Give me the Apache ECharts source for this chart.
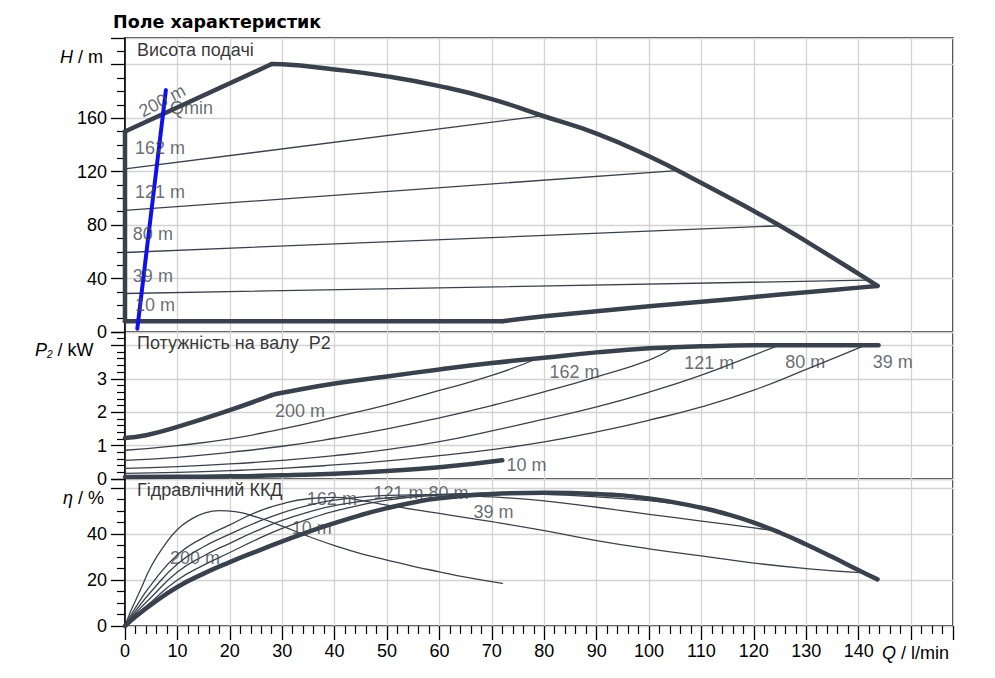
<!DOCTYPE html>
<html><head><meta charset="utf-8">
<script src="https://cdn.jsdelivr.net/npm/echarts@6/dist/echarts.min.js"></script>
<style>html,body{margin:0;padding:0;background:#fff}#c{width:995px;height:678px}</style>
</head><body><div id="c"></div>
<script>
// ---------------- data ----------------
const xTickLabels = [0,10,20,30,40,50,60,70,80,90,100,110,120,130,140];
const hTickLabels = [0,40,80,120,160];
const pTickLabels = [0,1,2,3];
const etaTickLabels = [0,20,40];

// Head H / m  [Q l/min, H m]
const h200 = [[0,150],[28,200.5]];
const hMax = [[28,200.5],[30,200.3],[40,196.5],[50,191.3],[60,184],[70,174.3],[79.5,162],[90,148.5],[100,131.5],[110,111.5],[120,90.5],[125,79.5],[130,67.8],[140,43.5],[143.6,34.5]];
const hLeft = [[0,150],[0,8]];
const hMinFlat = [[0,8],[72,8]];
const hMin = [[72,8],[80,11.8],[90,15.5],[100,19.2],[110,22.6],[120,26.2],[130,29.8],[140,33.2],[143.6,34.5]];
const h162 = [[0,122],[79.5,161.8]];
const h121 = [[0,91],[105.3,120.8]];
const h80 = [[0,59.5],[125,79.5]];
const h39 = [[0,28.8],[141.5,38.8]];
const qMin = [[2.35,2.5],[7.8,181]];

// Power P2 / kW
const p200 = [[0,1.23],[4,1.31],[10,1.56],[20,2.06],[28,2.51]];
const pMax = [[28,2.51],[30,2.58],[40,2.86],[50,3.07],[60,3.28],[70,3.47],[80,3.63],[90,3.79],[100,3.91],[110,3.97],[120,4.0],[143.8,4.0]];
const p162 = [[0,0.86],[10,1.0],[20,1.2],[30,1.5],[40,1.85],[50,2.22],[60,2.65],[70,3.1],[78.6,3.6]];
const p121 = [[0,0.56],[10,0.65],[20,0.8],[30,0.98],[40,1.22],[50,1.5],[60,1.83],[70,2.2],[80,2.61],[90,3.06],[100,3.56],[104.6,3.93]];
const p80 = [[0,0.32],[10,0.37],[20,0.45],[30,0.56],[40,0.7],[50,0.88],[60,1.12],[70,1.44],[80,1.79],[90,2.16],[100,2.6],[110,3.11],[120,3.71],[124.4,3.98]];
const p39 = [[0,0.17],[10,0.2],[20,0.25],[30,0.32],[40,0.42],[50,0.54],[60,0.7],[70,0.88],[80,1.11],[90,1.41],[100,1.76],[110,2.16],[120,2.66],[130,3.28],[141.2,4.0]];
const p10 = [[0,0.06],[10,0.065],[20,0.08],[30,0.11],[40,0.16],[50,0.24],[60,0.35],[72,0.56]];

// Hydraulic efficiency eta / %
const eMax = [[0,0],[2,4],[5,9.3],[10,17],[15,22.8],[20,27.8],[25,32.4],[30,36.8],[35,41],[40,44.8],[45,48.3],[50,51.3],[55,53.8],[60,55.6],[70,57.5],[80,58],[90,57.5],[100,55.5],[110,51.5],[115,48.6],[120,45],[125,40.6],[130,35.5],[135,30],[140,24.3],[143.6,20.3]];
const e10 = [[0,0],[1,6],[2,11],[3,16],[5,26],[7.5,35],[10,42],[12.5,46.3],[15,49],[18,50.2],[21,49.8],[25,47.5],[30,43.5],[35,39],[40,35],[45,31.5],[50,28.7],[55,26],[60,23.6],[65,21.3],[72,18.6]];
const e39 = [[0,0],[2,8],[5,18],[10,31],[15,38.5],[20,44],[25,49.5],[30,53.2],[35,55.4],[40,56],[45,54.7],[50,52.6],[60,49],[70,45.4],[80,41.5],[90,37.2],[100,33.6],[110,30.5],[120,27.4],[130,25],[140.3,23.2]];
const e80 = [[0,0],[2,6.5],[5,15],[10,27],[15,34.5],[20,40],[25,45],[30,49.3],[35,52.5],[40,54.8],[50,56.9],[60,57.2],[70,56.2],[80,54.5],[90,51.7],[100,48.6],[110,45.7],[120,42.7],[123.3,41.7]];
const e121 = [[0,0],[2,5.5],[5,12.5],[10,23.5],[15,30.5],[20,36],[25,41.3],[30,46],[35,49.6],[40,52.4],[50,55.8],[60,57.3],[70,57.7],[80,57.3],[90,56.2],[100,54.6],[104.6,53.4]];
const e162 = [[0,0],[2,4.5],[5,10.5],[10,20],[15,26.5],[20,32],[25,37.5],[30,42.5],[35,46.5],[40,50],[50,54.8],[60,57],[70,57.9],[78.6,58]];

// curve labels [text, Q, value]
const hLabels = [['162 m',1.9,137.8],['121 m',1.9,104.8],['80 m',1.5,73.3],['39 m',1.5,41.8],['10 m',1.9,20],['Qmin',8.6,167.8]];
const hRotLabels = [['200 m',7.1,173]];
const pLabels = [['200 m',28.6,2.04],['162 m',81,3.21],['121 m',106.7,3.46],['80 m',126,3.51],['39 m',142.7,3.51],['10 m',72.8,0.43]];
const eLabels = [['162 m',34.7,55.5],['121 m',47.4,57.7],['80 m',57.9,57.7],['39 m',66.5,49.7],['10 m',31.8,42.5],['200 m',8.6,29.4]];
const panelTitles = [['Висота подачі',2.3,211.3,0],['Потужність на валу  P2',2.3,4.08,1],['Гідравлічний ККД',2.3,59,2]];

// ---------------- chart ----------------
const FONT = '"Liberation Sans", Arial, sans-serif';
const CURVE = '#39424c';
const LBL = '#40474f';
const GRIDC = '#d3d3d3';

const grids = [
  {left:125, width:828, top:38, height:294},
  {left:125, width:828, top:332, height:147},
  {left:125, width:828, top:479, height:147}
].map(g => Object.assign(g, {show:true, borderColor:'#000', borderWidth:1.5, backgroundColor:'transparent'}));

const xAxes = [0,1,2].map(i => ({
  type:'value', gridIndex:i, min:0, max:158, interval:10,
  axisLine:{show:false},
  axisTick:{show:i===2, length:14, lineStyle:{color:'#000', width:1.3}},
  minorTick:{show:i===2, splitNumber:5, length:8, lineStyle:{color:'#000', width:1.2}},
  axisLabel:{show:i===2, fontSize:18, color:'#000', margin:16, fontFamily:FONT,
    formatter: v => xTickLabels.includes(v) ? String(v) : ''},
  splitLine:{show:true, lineStyle:{color:GRIDC, width:1.3}},
  minorSplitLine:{show:false}
}));

function yAx(i, max, interval, minorSplit, labels) {
  return {
    type:'value', gridIndex:i, min:0, max:max, interval:interval,
    axisLine:{show:true, lineStyle:{color:'#000', width:1.5}},
    axisTick:{show:true, length:14, lineStyle:{color:'#000', width:1.3}},
    minorTick:{show:true, splitNumber:minorSplit, length:8, lineStyle:{color:'#000', width:1.2}},
    axisLabel:{fontSize:18, color:'#000', margin:18, fontFamily:FONT,
      formatter: v => labels.includes(v) ? String(v) : ''},
    splitLine:{show:true, lineStyle:{color:GRIDC, width:1.3}}
  };
}
const yAxes = [yAx(0,220,40,4,hTickLabels), yAx(1,4.4,1,5,pTickLabels), yAx(2,64,20,4,etaTickLabels)];

function line(gi, data, thick, smooth, color) {
  return {
    type:'line', xAxisIndex:gi, yAxisIndex:gi, data:data, showSymbol:false, symbol:'none',
    smooth: smooth ? 0.5 : false,
    lineStyle:{color: color || CURVE, width: thick ? 4.5 : 1.3, cap:'round', join:'round'},
    silent:true, animation:false, z: thick ? 3 : 2
  };
}
function labels(gi, arr, extra) {
  return {
    type:'scatter', xAxisIndex:gi, yAxisIndex:gi, symbolSize:0, silent:true, animation:false, z:6,
    data: arr.map(a => ({value:[a[1],a[2]], name:a[0]})),
    label:Object.assign({show:true, position:'right', distance:0, formatter:'{b}', fontSize:18,
      color:LBL, fontFamily:FONT}, extra || {})
  };
}

const series = [
  // H
  line(0,h162,false,false), line(0,h121,false,false), line(0,h80,false,false), line(0,h39,false,false),
  line(0,h200,true,false), line(0,hMax,true,true), line(0,hLeft,true,false),
  line(0,hMinFlat,true,false), line(0,hMin,true,true),
  // P
  line(1,p162,false,true), line(1,p121,false,true), line(1,p80,false,true), line(1,p39,false,true),
  line(1,p200,true,true), line(1,pMax,true,true), line(1,p10,true,true),
  // eta
  line(2,e10,false,true), line(2,e39,false,true), line(2,e80,false,true), line(2,e121,false,true), line(2,e162,false,true),
  line(2,eMax,true,true),
  // labels
  labels(0,hLabels), labels(0,hRotLabels,{position:'inside', rotate:28}),
  labels(1,pLabels), labels(2,eLabels)
];
// Qmin line on top
const qs = line(0,qMin,true,false,'#1010ee'); qs.lineStyle.width = 4; qs.z = 5;
series.push(qs);
// panel titles
panelTitles.forEach(t => {
  series.push({
    type:'scatter', xAxisIndex:t[3], yAxisIndex:t[3], symbolSize:0, silent:true, animation:false, z:6,
    data:[{value:[t[1],t[2]], name:t[0]}],
    label:{show:true, position:'right', distance:0, formatter:'{b}', fontSize:18, color:'#000', fontFamily:FONT}
  });
});

const rich = {
  i:{fontStyle:'italic', fontSize:18, fontFamily:FONT, fill:'#000'},
  n:{fontSize:18, fontFamily:FONT, fill:'#000'},
  s:{fontStyle:'italic', fontSize:10, fontFamily:FONT, fill:'#000', padding:[8,0,0,0]}
};
const graphic = [
  {type:'text', left:60, top:48, style:{text:'{i|H}{n| / m}', rich:rich}},
  {type:'text', left:35, top:341, style:{text:'{i|P}{s|2}{n| / kW}', rich:rich}},
  {type:'text', left:63, top:489, style:{text:'{i|η}{n| / %}', rich:rich}},
  {type:'text', left:882, top:644, style:{text:'{i|Q}{n| / l/min}', rich:rich}}
];

const chart = echarts.init(document.getElementById('c'), null, {renderer:'svg'});
chart.setOption({
  animation:false,
  backgroundColor:'#fff',
  title:{text:'Поле характеристик', left:108, top:8,
    textStyle:{fontFamily:'"DejaVu Sans", sans-serif', fontWeight:'bold', fontSize:17.5, color:'#000'}},
  grid:grids, xAxis:xAxes, yAxis:yAxes, series:series, graphic:graphic
});
</script></body></html>
